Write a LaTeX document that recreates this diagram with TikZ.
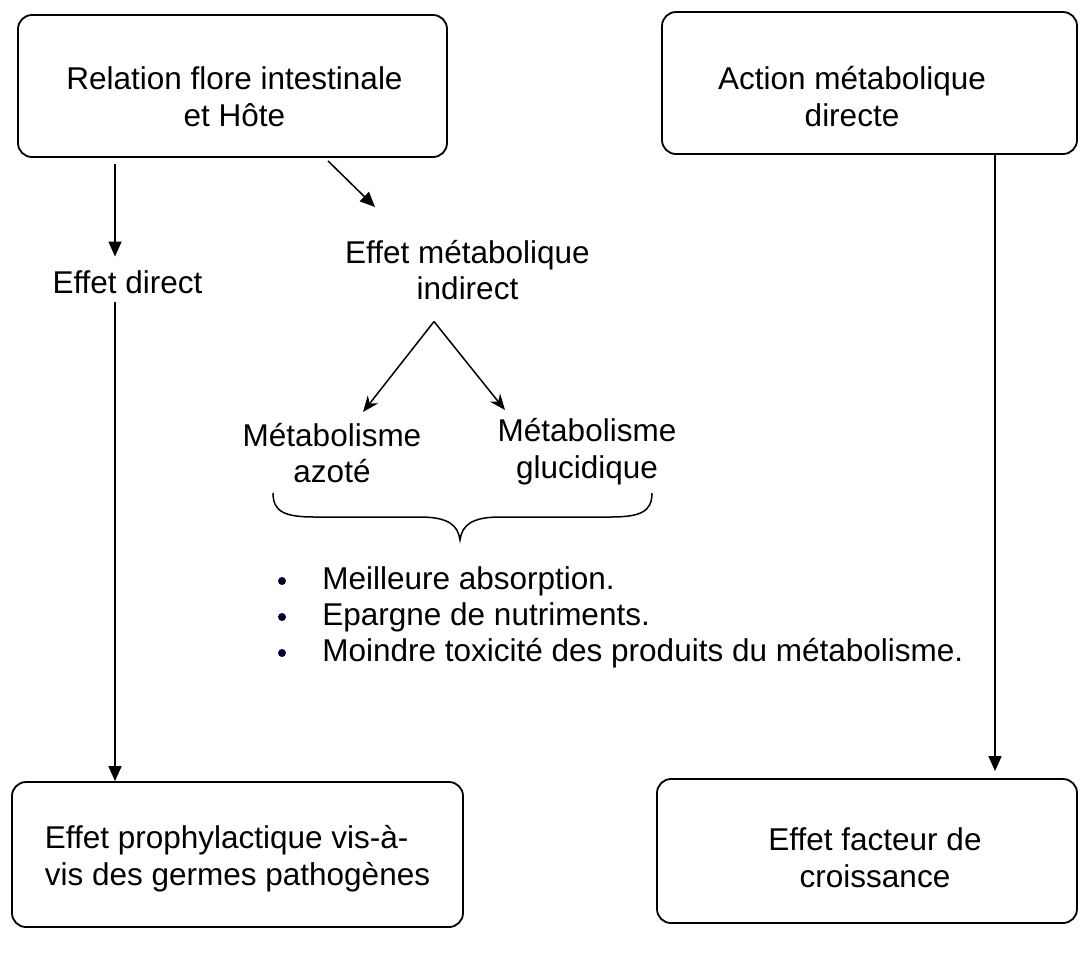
\documentclass[tikz,border=0pt]{standalone}
\usepackage{fontspec}
\setmainfont{Liberation Sans}
\usetikzlibrary{arrows.meta}
\begin{document}
\begin{tikzpicture}[x=0.5pt,y=-0.5pt,
  box/.style={draw, line width=0.9pt, rounded corners=7pt, inner sep=0pt},
  lbl/.style={font=\fontsize{15.75}{18.4}\selectfont, align=center, inner sep=0pt},
  arr/.style={line width=0.75pt, -{Triangle[length=7.5pt,width=6.5pt]}},
  sarr/.style={line width=0.75pt, -{Stealth[length=8pt,width=6.5pt]}},
  dot/.style={circle, fill=black!80!blue, inner sep=0pt, minimum size=4pt}
]
\useasboundingbox (0,0) rectangle (1080,966);

% boxes
\node[box, minimum width=214.5pt, minimum height=71pt] (b1) at (232.5,86) {};
\node[box, minimum width=207.5pt, minimum height=71pt] (b2) at (869.5,83) {};
\node[box, minimum width=225.5pt, minimum height=72.5pt] (b3) at (237.5,854.5) {};
\node[box, minimum width=210pt, minimum height=72pt] (b4) at (867,851) {};

% box texts
\node[lbl] (t1) at (234.5,96.5) {Relation flore intestinale\\et Hôte};
\node[lbl] (t2) at (852,96.5) {Action métabolique\\directe};
\node[lbl, align=left] (t3) at (237.5,858.5) {Effet prophylactique vis-à-\\vis des germes pathogènes};
\node[lbl] (t4) at (875,857.5) {Effet facteur de\\croissance};

% free labels
\node[lbl] (direct) at (127.5,282) {Effet direct};
\node[lbl] (ind) at (467.5,270) {Effet métabolique\\indirect};
\node[lbl] (mA) at (332,453) {Métabolisme\\azoté};
\node[lbl] (mG) at (587,451.5) {Métabolisme\\glucidique};

% bullet list
\node[dot] (d1) at (282,581) {};
\node[dot] (d2) at (282,617) {};
\node[dot] (d3) at (282,653) {};
\node[lbl, anchor=west] (l1) at (322,581) {Meilleure absorption.};
\node[lbl, anchor=west] (l2) at (322,617) {Epargne de nutriments.};
\node[lbl, anchor=west] (l3) at (322,653) {Moindre toxicité des produits du métabolisme.};

% helper coordinates
\coordinate (xl) at (115,0);
\coordinate (xd) at (328,0);
\coordinate (xr) at (995,0);
\coordinate (xa) at (434,0);
\coordinate (dtip) at (375,207);
\coordinate (tipA) at (363,412);
\coordinate (tipG) at (505,410);

% connectors
\draw[arr] ([yshift=-3pt]b1.south -| xl) -- ([yshift=6.75pt]direct.north -| xl);
\draw[arr] ([yshift=-4.25pt]direct.south -| xl) -- (b3.north -| xl);
\draw[arr] ([yshift=-1.5pt]b1.south -| xd) -- (dtip);
\draw[sarr] ([yshift=-10.5pt]ind.south -| xa) coordinate (apex) -- (tipA);
\draw[sarr] (apex) -- (tipG);
\draw[arr] (b2.south -| xr) -- ([yshift=3.5pt]b4.north -| xr);

% brace
\draw[line width=0.75pt] (273,493) .. controls (273,512) and (285,517) .. (315,517)
  -- (420,517) .. controls (448,517) and (458,525) .. (460,540)
  .. controls (462,525) and (472,517) .. (500,517)
  -- (610,517) .. controls (640,517) and (652,512) .. (652,493);
\end{tikzpicture}
\end{document}
